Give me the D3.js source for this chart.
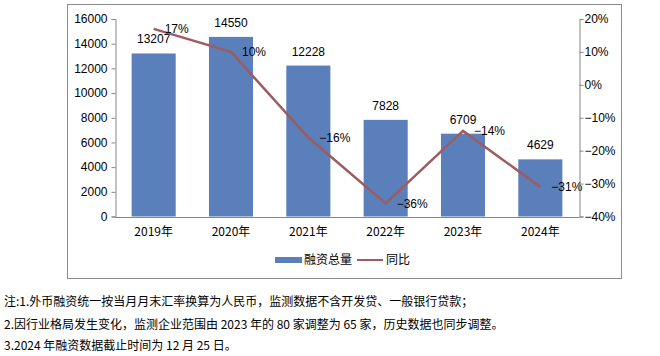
<!DOCTYPE html>
<html><head><meta charset="utf-8">
<script src="https://cdn.jsdelivr.net/npm/d3@7"></script>
<style>
body{margin:0;background:#fff;}
text{font-family:"Liberation Sans","Noto Sans CJK SC",sans-serif;fill:#000;}
.cjk{font-family:"Noto Sans CJK SC","Liberation Sans",sans-serif;}
</style></head><body>
<svg id="c" width="660" height="356"></svg>
<script>
const categories = ["2019年","2020年","2021年","2022年","2023年","2024年"];
const totals = [13207,14550,12228,7828,6709,4629];
const yoy = [17,10,-16,-36,-14,-31];
const leftTicks = [0,2000,4000,6000,8000,10000,12000,14000,16000];
const rightTicks = [-40,-30,-20,-10,0,10,20];
const seriesNames = ["融资总量","同比"];
const notes = [
  "注:1.外币融资统一按当月月末汇率换算为人民币，监测数据不含开发贷、一般银行贷款；",
  "2.因行业格局发生变化，监测企业范围由 2023 年的 80 家调整为 65 家，历史数据也同步调整。",
  "3.2024 年融资数据截止时间为 12 月 25 日。"
];

const svg = d3.select("#c");
const barColor = "#5a7fbb", lineColor = "#9e5b60", axisColor = "#868686";
const L = 115, R = 579, T = 19, B = 216.5;
const pct = d => (d < 0 ? "\u2212" + Math.abs(d) : d) + "%";

svg.append("rect").attr("x",67.5).attr("y",4.5).attr("width",554).attr("height",274)
  .attr("fill","none").attr("stroke","#8c8c8c").attr("stroke-width",1);

const x = d3.scaleBand().domain(categories).range([L,R]).paddingInner(0.43).paddingOuter(0.215);
const y = d3.scaleLinear().domain([0,16000]).range([B,T]);
const y2 = d3.scaleLinear().domain([-40,20]).range([B,T]);

// bars
svg.selectAll(".bar").data(totals).enter().append("rect")
  .attr("x",(d,i)=>x(categories[i])).attr("width",x.bandwidth())
  .attr("y",d=>y(d)).attr("height",d=>B-y(d)).attr("fill",barColor);

// left axis
const ga = svg.append("g").attr("transform",`translate(${L+0.5},0)`)
  .call(d3.axisLeft(y).tickValues(leftTicks).tickSize(4).tickPadding(4).tickFormat(d3.format("d")));
ga.select(".domain").attr("stroke",axisColor);
ga.selectAll(".tick line").attr("stroke",axisColor);
ga.selectAll("text").attr("font-size",12).attr("fill","#000");

// right axis
const gr = svg.append("g").attr("transform",`translate(${R+0.5},0)`)
  .call(d3.axisRight(y2).tickValues(rightTicks).tickSize(4).tickPadding(1).tickFormat(pct));
gr.select(".domain").attr("stroke",axisColor);
gr.selectAll(".tick line").attr("stroke",axisColor);
gr.selectAll("text").attr("font-size",12).attr("fill","#000");

// x axis
const gx = svg.append("g").attr("transform",`translate(0,${B+0.5})`)
  .call(d3.axisBottom(x).tickSize(0).tickPadding(10));
gx.select(".domain").attr("stroke",axisColor);
gx.selectAll("text").attr("font-size",12).attr("fill","#000").attr("class","cjk");

// bar labels
svg.selectAll(".bl").data(totals).enter().append("text")
  .attr("x",(d,i)=>x(categories[i])+x.bandwidth()/2).attr("y",d=>y(d)-10)
  .attr("text-anchor","middle").attr("font-size",12).text(d=>d);

// line
const cx = i => x(categories[i])+x.bandwidth()/2;
svg.append("path").datum(yoy)
  .attr("d",d3.line().x((d,i)=>cx(i)).y(d=>y2(d)))
  .attr("fill","none").attr("stroke",lineColor).attr("stroke-width",2.5);
svg.selectAll(".ll").data(yoy).enter().append("text")
  .attr("x",(d,i)=>cx(i)+11).attr("y",d=>y2(d)).attr("dy","0.35em")
  .attr("font-size",12).text(pct);

// legend
svg.append("rect").attr("x",275).attr("y",257).attr("width",27).attr("height",6).attr("fill",barColor);
svg.append("text").attr("class","cjk").attr("x",304).attr("y",260).attr("dy","0.35em").attr("font-size",12).text(seriesNames[0]);
svg.append("line").attr("x1",357).attr("x2",383).attr("y1",260).attr("y2",260).attr("stroke",lineColor).attr("stroke-width",2);
svg.append("text").attr("class","cjk").attr("x",386).attr("y",260).attr("dy","0.35em").attr("font-size",12).text(seriesNames[1]);

// notes
const noteY = [302,325,346];
svg.selectAll(".note").data(notes).enter().append("text").attr("class","cjk")
  .attr("x",4).attr("y",(d,i)=>noteY[i]).attr("dy","0.35em").attr("font-size",12).text(d=>d);
</script>
</body></html>
